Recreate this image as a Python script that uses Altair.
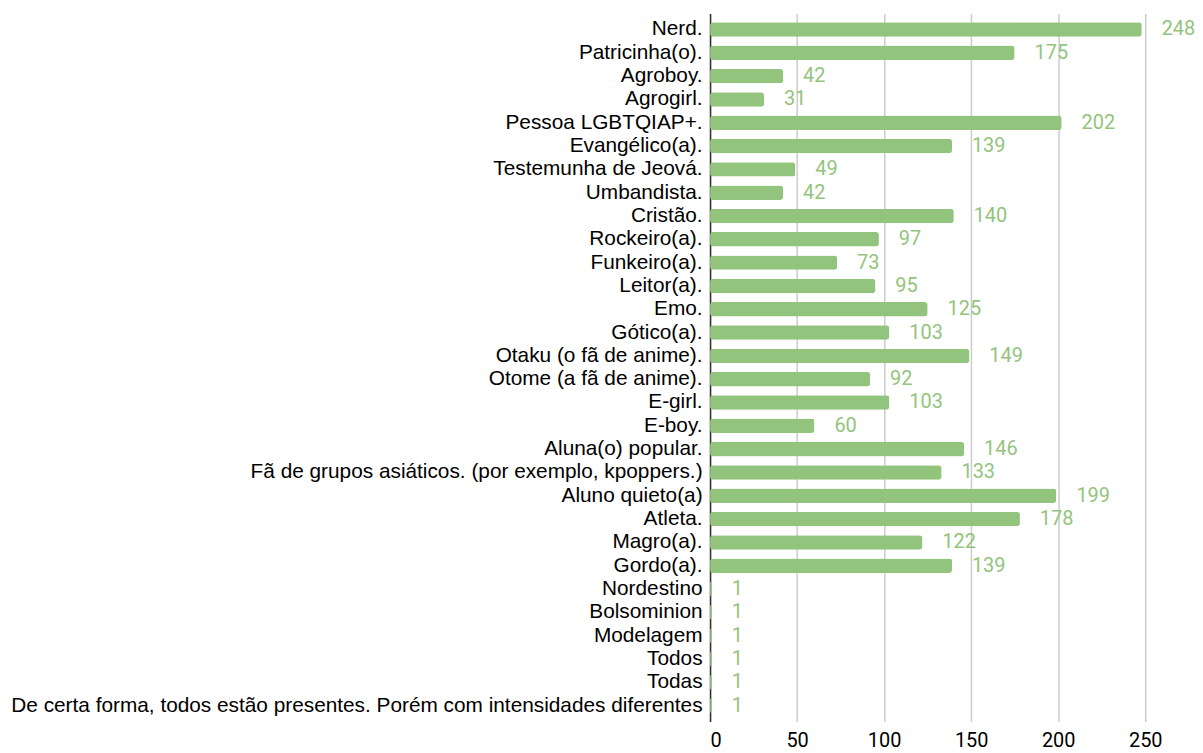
import altair as alt
import pandas as pd

categories = [
    "Nerd.", "Patricinha(o).", "Agroboy.", "Agrogirl.", "Pessoa LGBTQIAP+.",
    "Evangélico(a).", "Testemunha de Jeová.", "Umbandista.", "Cristão.",
    "Rockeiro(a).", "Funkeiro(a).", "Leitor(a).", "Emo.", "Gótico(a).",
    "Otaku (o fã de anime).", "Otome (a fã de anime).", "E-girl.", "E-boy.",
    "Aluna(o) popular.", "Fã de grupos asiáticos. (por exemplo, kpoppers.)",
    "Aluno quieto(a)", "Atleta.", "Magro(a).", "Gordo(a).", "Nordestino",
    "Bolsominion", "Modelagem", "Todos", "Todas",
    "De certa forma, todos estão presentes. Porém com intensidades diferentes",
]
values = [248, 175, 42, 31, 202, 139, 49, 42, 140, 97, 73, 95, 125, 103,
          149, 92, 103, 60, 146, 133, 199, 178, 122, 139, 1, 1, 1, 1, 1, 1]
x_ticks = [0, 50, 100, 150, 200, 250]

df = pd.DataFrame({"cat": categories, "val": values})
green = "#93c47d"

xscale = alt.Scale(domain=[0, 270], nice=False)
y = alt.Y("cat:N", sort=categories, title=None,
          scale=alt.Scale(paddingInner=0.38, paddingOuter=0.375),
          axis=alt.Axis(labelFont="Liberation Sans", labelFontSize=20.9,
                        labelColor="#000000", ticks=False, domainColor="#333333",
                        domainWidth=1.5, labelPadding=8, labelLimit=900))
x = alt.X("val:Q", title=None, scale=xscale,
          axis=alt.Axis(values=x_ticks, labelFont="Roboto", labelFontSize=20,
                        labelColor="#000000", ticks=False, domain=False,
                        gridColor="#cccccc", gridWidth=1.5, labelPadding=9))

bars = alt.Chart(df).mark_bar(color=green, cornerRadius=3).encode(x=x, y=y)
labels = alt.Chart(df).mark_text(align="left", dx=20, font="Roboto",
                                 fontSize=20, color=green).encode(
    x=x, y=y, text="val:Q")

chart = (bars + labels).properties(
    width=472, height=711,
    autosize=alt.AutoSizeParams(type="none"),
    padding={"left": 705, "top": 4, "right": 15, "bottom": 30},
).configure(background="#ffffff").configure_view(stroke="transparent", strokeWidth=0)

chart.save("out.html", embed_options={"renderer": "svg", "actions": False})
